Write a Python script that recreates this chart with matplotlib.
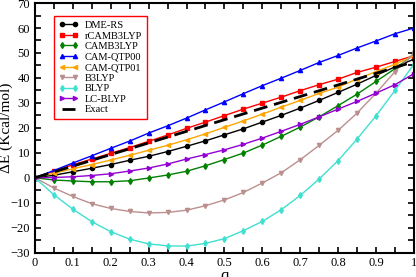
import numpy as np
import matplotlib.pyplot as plt
from matplotlib.ticker import MultipleLocator

plt.rcParams['font.family'] = ['Liberation Serif', 'DejaVu Serif']

# q from 0 to 1 in steps of 0.05
q = np.round(np.arange(0, 1.0001, 0.05), 2)

dme_rs = [0, 1.0, 2.4, 3.8, 5.3, 7.0, 8.6, 10.5, 12.6, 14.8, 17.2,
          19.6, 22.3, 25.0, 27.9, 31.0, 34.2, 37.5, 41.0, 44.4, 47.5]
rcamb3lyp = [0, 2.6, 5.2, 7.5, 9.8, 12.1, 14.6, 17.1, 19.8, 22.3, 24.9,
             27.5, 29.9, 32.3, 34.9, 37.3, 39.5, 42.2, 44.3, 46.6, 48.9]
camb3lyp = [0, -0.9, -1.3, -1.6, -1.6, -1.2, -0.1, 1.1, 2.6, 4.8, 7.3,
            9.9, 13.1, 16.6, 20.3, 24.4, 28.9, 33.5, 38.6, 43.7, 49.3]
cam_qtp00 = [0, 2.9, 5.9, 8.8, 11.8, 14.7, 17.9, 20.8, 23.9, 27.2, 30.4,
             33.7, 36.9, 39.9, 43.0, 46.2, 49.0, 52.0, 54.8, 57.7, 60.0]
cam_qtp01 = [0, 1.8, 3.6, 5.3, 7.1, 9.0, 11.0, 13.0, 15.2, 17.6, 20.2,
             22.8, 25.5, 28.3, 31.0, 33.8, 36.3, 39.6, 42.5, 45.5, 48.9]
b3lyp = [0, -4.1, -7.5, -10.4, -12.3, -13.5, -14.1, -13.9, -13.0, -11.2, -8.9,
         -5.9, -2.1, 2.0, 7.2, 13.0, 19.0, 25.9, 33.9, 42.5, 50.0]
blyp = [0, -6.8, -12.6, -17.6, -21.6, -24.6, -26.5, -27.3, -27.4, -26.3, -24.4,
        -21.2, -17.5, -12.8, -7.1, -0.5, 6.9, 15.5, 24.8, 35.0, 45.5]
lc_blyp = [0, 0.1, 0.4, 0.9, 1.6, 2.7, 3.9, 5.5, 7.5, 9.3, 11.2,
           13.4, 15.9, 18.6, 21.4, 24.4, 27.5, 30.6, 33.9, 37.3, 41.7]
exact_q = [0, 1]
exact = [0, 46.5]

fig = plt.figure(figsize=(4.16, 2.77), dpi=100)
ax = fig.add_axes([0.084, 0.088, 0.911, 0.901])

series = [
    (dme_rs, 'DME-RS', 'black', 'o'),
    (rcamb3lyp, 'rCAMB3LYP', 'red', 's'),
    (camb3lyp, 'CAMB3LYP', 'green', 'd'),
    (cam_qtp00, 'CAM-QTP00', 'blue', '^'),
    (cam_qtp01, 'CAM-QTP01', 'orange', '<'),
    (b3lyp, 'B3LYP', '#bc8f8f', 'v'),
    (blyp, 'BLYP', '#40e0d0', 'd'),
    (lc_blyp, 'LC-BLYP', '#9400d3', '>'),
]
for vals, name, col, mk in series:
    ax.plot(q, vals, color=col, marker=mk, markersize=3, linewidth=1, label=name)
ax.plot(exact_q, exact, color='black', linestyle=(0, (5, 2.5)), linewidth=2, label='Exact')

ax.set_xlim(0, 1)
ax.set_ylim(-30, 70)
ax.xaxis.set_major_locator(MultipleLocator(0.1))
ax.xaxis.set_minor_locator(MultipleLocator(0.05))
ax.yaxis.set_major_locator(MultipleLocator(10))
ax.yaxis.set_minor_locator(MultipleLocator(5))
ax.set_xticklabels([f'{v:g}' for v in np.arange(-0.1, 1.11, 0.1).round(1)])
ax.tick_params(which='both', direction='in', top=True, right=True, labelsize=9)
ax.tick_params(which='major', length=4, width=1.2)
ax.tick_params(which='minor', length=4, width=1.2)
for s in ax.spines.values():
    s.set_linewidth(1.5)

ax.set_xlabel('q', fontsize=12, labelpad=-1)
ax.set_ylabel('ΔE (Kcal/mol)', fontsize=11, labelpad=-2)

leg = ax.legend(loc='upper left', bbox_to_anchor=(0.05, 0.948), numpoints=2,
                fontsize=7.5, fancybox=False, framealpha=1, edgecolor='red',
                handlelength=1.9, labelspacing=0.12, borderpad=0.45,
                handletextpad=0.6, borderaxespad=0)
leg.get_frame().set_linewidth(1.0)

fig.savefig('out.png', dpi=100)
